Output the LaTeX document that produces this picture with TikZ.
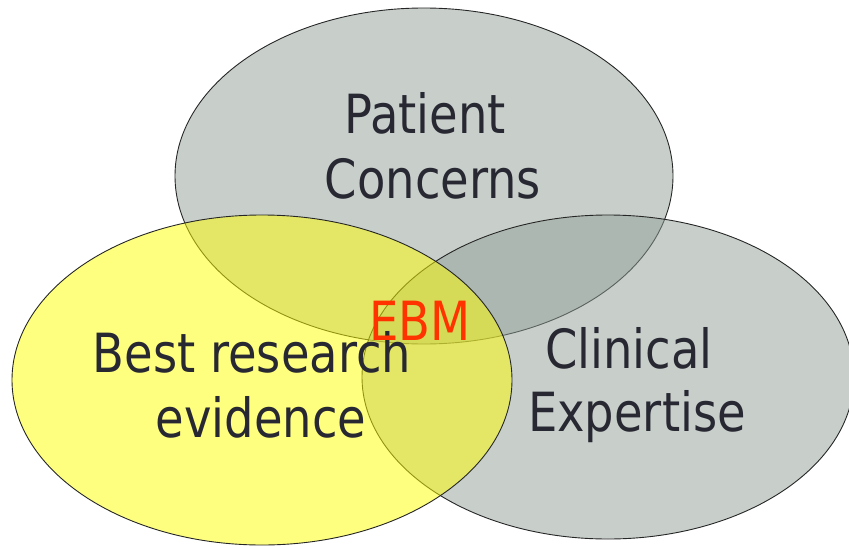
\documentclass[tikz,border=0pt]{standalone}
\usepackage{fontspec}
\setmainfont[FakeStretch=0.86]{DejaVu Sans}

\definecolor{setgray}{RGB}{145,159,151}
\definecolor{setyellow}{RGB}{255,255,0}
\definecolor{inktext}{RGB}{40,40,50}
\definecolor{inkred}{RGB}{255,51,0}

\tikzset{
  setfill/.style={fill=#1, fill opacity=0.5, draw=black!85, line width=0.9pt},
  setlabel/.style={anchor=base, inner sep=0pt, text=inktext, font=\fontsize{54}{65}\selectfont},
  corelabel/.style={setlabel, text=inkred}
}

\begin{document}
\begin{tikzpicture}[x=1pt, y=-1pt]

\useasboundingbox (0,0) rectangle (849,546);

% Sets
\filldraw[setfill=setgray] (424,176) ellipse [x radius=249pt, y radius=168pt];
\filldraw[setfill=setgray] (608,377) ellipse [x radius=246pt, y radius=162pt];
\filldraw[setfill=setyellow] (262,380) ellipse [x radius=250pt, y radius=165pt];

% Set labels
\node[setlabel] (patient) at (425,133) {Patient};
\node[setlabel] (concerns) at (433,198) {Concerns};
\node[setlabel] (best) at (252,372) {Best research};
\node[setlabel] (evidence) at (261,437) {evidence};
\node[setlabel] (clinical) at (629,368) {Clinical};
\node[setlabel] (expertise) at (637,431) {Expertise};

% Centre
\node[corelabel] (ebm) at (420,340) {EBM};

\end{tikzpicture}
\end{document}
